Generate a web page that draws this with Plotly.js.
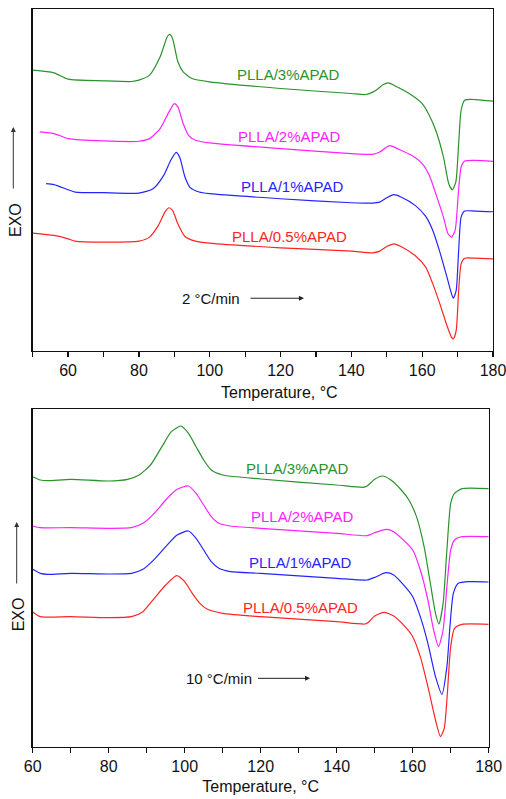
<!DOCTYPE html>
<html>
<head>
<meta charset="utf-8">
<script src="https://cdn.plot.ly/plotly-3.0.1.min.js"></script>
<style>html,body{margin:0;padding:0;background:#fff;}#chart{width:506px;height:799px;}</style>
</head>
<body>
<div id="chart"></div>
<script>
// ---- 2 °C/min panel (temperature °C, heat flow a.u.) ----
const seriesNames = ["PLLA/3%APAD", "PLLA/2%APAD", "PLLA/1%APAD", "PLLA/0.5%APAD"];
const seriesColors = ["#2a922a", "#ff22ff", "#2424ff", "#ff2424"];

const tA_3 = [50,56,60,70,78,80,83,86,88,88.7,89.5,91,92.5,95,100,120,140,144,147,149,150.5,152,156,160,162,164,166,167.5,168.5,169.5,170.3,171,172,175,180];
const hA_3 = [84.0,83.2,81.3,80.8,80.6,81.0,82.5,88.0,94.0,94.7,93.5,86.5,83.5,81.5,80.5,78.5,77.0,76.7,78.0,79.7,80.2,79.5,77.2,74.0,70.5,65.5,58.0,50.0,48.2,50.5,62.0,72.0,75.0,75.2,74.7];

const tA_2 = [52,56,60,70,80,83,86,88.5,90,91,92.5,94,96,100,120,140,146,148,150,151,153,157,160,162,164,166,167.3,168.3,169.3,170.2,171,172,175,180];
const hA_2 = [65.5,65.0,63.5,62.8,62.7,63.5,66.5,71.5,74.0,73.0,68.0,64.5,63.0,62.2,60.5,59.0,58.8,59.5,61.0,61.4,60.5,58.5,56.0,52.5,46.5,40.0,35.0,34.0,36.0,47.0,55.0,56.8,57.0,56.7];

const tA_1 = [53.8,56,60,62,70,80,84,87,89,90.5,91.5,93,94.5,97,100,120,140,146,148,150,152,154,158,161,163,165,167,168.3,168.8,169.6,170.3,171,172,175,180];
const hA_1 = [50.0,49.7,48.2,47.5,47.3,47.2,48.5,52.5,57.0,59.4,58.0,52.0,48.8,47.5,47.0,45.5,44.3,44.2,44.5,45.8,46.7,46.0,43.5,40.2,36.0,29.5,22.0,17.0,15.7,18.0,30.0,40.0,41.8,41.8,41.6];

const tA_05 = [50,56,60,62,70,80,83,85.5,87.5,88.5,89.5,91,93,96,100,120,140,146,148,150,152,154,158,161,163,165,167,168.3,168.8,169.6,170.3,171,172,175,180];
const hA_05 = [35.2,34.5,33.5,32.8,32.5,32.8,34.0,37.5,41.8,42.8,42.0,38.0,34.2,32.8,32.2,30.8,29.8,29.3,29.8,31.2,32.0,31.2,28.5,25.0,20.0,14.0,7.5,4.0,3.5,6.0,18.0,26.0,27.7,27.7,27.5];

// ---- 10 °C/min panel ----
const tB_3 = [60,62,64,70,80,85,88,91,94,96.5,99,101,103,105,107,110,120,140,147,148,150,152,154,157,159,161,163,164.5,166,166.9,168,169,170,171,173,180];
const hB_3 = [81.0,80.0,79.8,80.2,79.7,80.2,81.5,84.5,90.0,94.5,96.2,94.0,90.0,86.0,83.0,81.5,80.3,78.5,77.8,78.2,80.2,81.2,80.2,77.0,74.0,69.0,60.0,50.0,40.0,36.8,43.0,59.0,73.0,76.0,77.4,77.4];

const tB_2 = [60,62,70,80,86,89,92,95,98,101,103,105,107,109,112,120,140,148,150,153,155,158,160,162,164,165.5,166.8,168,169,170,171,173,180];
const hB_2 = [66.2,65.7,65.7,65.5,65.7,67.0,70.0,74.0,77.2,78.2,76.0,72.5,69.0,67.0,66.2,65.5,64.0,63.3,64.2,65.2,64.5,61.5,59.0,53.0,44.0,35.0,30.0,35.0,48.0,59.0,62.0,63.0,63.0];

const tB_1 = [60,62,64,70,80,86,89,92,95,98,101,103,105,107,109,112,120,140,148,150,153,155,158,160,162,164,166,167.7,169,169.8,170.7,172,175,180];
const hB_1 = [53.2,52.0,51.7,52.0,51.8,52.0,53.2,56.2,60.0,63.5,64.7,62.5,59.0,55.5,53.5,52.5,52.0,50.5,50.0,50.8,52.2,51.5,48.0,45.0,39.0,31.0,21.0,15.7,24.0,36.0,46.0,49.0,49.5,49.4];

const tB_05 = [60,62,70,80,86,89,92,95,97.9,100,102,104,106,110,120,140,147.5,148.5,150,152.5,155,158,160,162,164,166,167.3,168.3,169,170,171,173,180];
const hB_05 = [40.4,39.0,39.0,38.7,39.0,40.5,44.5,48.5,51.3,49.5,46.0,43.0,41.2,40.0,39.0,37.5,36.8,37.5,39.2,40.3,39.2,36.0,33.0,27.0,18.0,8.0,3.0,5.5,14.0,30.0,35.5,36.7,36.7];

const xTicksA = [60, 80, 100, 120, 140, 160, 180];
const xTicksB = [60, 80, 100, 120, 140, 160, 180];

const FONT = "Liberation Sans, Arial, sans-serif";

const panelA = [[tA_3,hA_3],[tA_2,hA_2],[tA_1,hA_1],[tA_05,hA_05]];
const panelB = [[tB_3,hB_3],[tB_2,hB_2],[tB_1,hB_1],[tB_05,hB_05]];

const traces = [];
panelA.forEach((s, i) => traces.push({x: s[0], y: s[1], xaxis: 'x', yaxis: 'y', mode: 'lines', name: seriesNames[i],
  line: {color: seriesColors[i], width: 1.2, shape: 'spline', smoothing: 0.6}, hoverinfo: 'skip', showlegend: false}));
panelB.forEach((s, i) => traces.push({x: s[0], y: s[1], xaxis: 'x2', yaxis: 'y2', mode: 'lines', name: seriesNames[i],
  line: {color: seriesColors[i], width: 1.2, shape: 'spline', smoothing: 0.6}, hoverinfo: 'skip', showlegend: false}));

function xax(range, domain, anchor, ticks) {
  return {range: range, domain: domain, anchor: anchor, showline: true, mirror: true, linecolor: '#111', linewidth: 1.5,
    ticks: 'outside', ticklen: 5, tickwidth: 1.2, tickcolor: '#111', tickmode: 'array', tickvals: ticks, showgrid: false, zeroline: false,
    ticklabeloverflow: 'allow',
    minor: {dtick: 10, ticks: 'outside', ticklen: 5, tickwidth: 1.2, tickcolor: '#111', showgrid: false},
    tickfont: {family: FONT, size: 16, color: '#111'}};
}
function yax(range, domain, anchor) {
  return {range: range, domain: domain, anchor: anchor, showline: true, mirror: true, linecolor: '#111', linewidth: 1.5,
    ticks: '', showticklabels: false, showgrid: false, zeroline: false};
}

const layout = {
  width: 506, height: 799, autosize: false,
  margin: {l: 0, r: 0, t: 0, b: 0},
  paper_bgcolor: '#fff', plot_bgcolor: '#fff',
  xaxis: xax([50, 180], [0.0646, 0.9743], 'y', xTicksA),
  yaxis: yax([0, 102.3], [0.5611, 0.9887], 'x'),
  xaxis2: Object.assign(xax([60, 180], [0.0646, 0.9658], 'y2', xTicksB),
    {title: {text: 'Temperature, °C', font: {family: FONT, size: 16, color: '#111'}, standoff: 6}}),
  yaxis2: yax([0, 101.3], [0.0655, 0.4881], 'x2'),
  annotations: [],
  font: {family: FONT}
};

const labA = [[122.1, 82.8], [122.4, 64.0], [123.2, 49.2], [122.4, 34.2]];
const labB = [[129.6, 83.5], [130.9, 69.2], [130.4, 55.2], [130.4, 41.8]];
labA.forEach((p, i) => layout.annotations.push({xref: 'x', yref: 'y', x: p[0], y: p[1], text: seriesNames[i], showarrow: false,
  xanchor: 'center', yanchor: 'middle', font: {family: FONT, size: 15, color: seriesColors[i]}}));
labB.forEach((p, i) => layout.annotations.push({xref: 'x2', yref: 'y2', x: p[0], y: p[1], text: seriesNames[i], showarrow: false,
  xanchor: 'center', yanchor: 'middle', font: {family: FONT, size: 15, color: seriesColors[i]}}));

// heating-rate notes with arrows
layout.annotations.push({xref: 'x', yref: 'y', x: 100.5, y: 15.7, text: '2 °C/min', showarrow: false, xanchor: 'center', yanchor: 'middle',
  font: {family: FONT, size: 15, color: '#111'}});
layout.annotations.push({xref: 'x', yref: 'y', x: 126.6, y: 15.7, ax: 111.1, ay: 15.7, axref: 'x', ayref: 'y', text: '', showarrow: true,
  arrowhead: 2, arrowsize: 1, arrowwidth: 1, arrowcolor: '#222'});
layout.annotations.push({xref: 'x2', yref: 'y2', x: 108.9, y: 20.5, text: '10 °C/min', showarrow: false, xanchor: 'center', yanchor: 'middle',
  font: {family: FONT, size: 15, color: '#111'}});
layout.annotations.push({xref: 'x2', yref: 'y2', x: 133.0, y: 20.5, ax: 118.9, ay: 20.5, axref: 'x2', ayref: 'y2', text: '', showarrow: true,
  arrowhead: 2, arrowsize: 1, arrowwidth: 1, arrowcolor: '#222'});

// top x title
layout.annotations.push({xref: 'paper', yref: 'paper', x: 279.6/506, y: (799-392.7)/799, text: 'Temperature, °C', showarrow: false,
  xanchor: 'center', yanchor: 'middle', font: {family: FONT, size: 16, color: '#111'}});

// EXO labels and up arrows
layout.annotations.push({xref: 'paper', yref: 'paper', x: 15/506, y: (799-220)/799, text: 'EXO', textangle: -90, showarrow: false,
  xanchor: 'center', yanchor: 'middle', font: {family: FONT, size: 16, color: '#111'}});
layout.annotations.push({xref: 'paper', yref: 'paper', x: 13.3/506, y: (799-127)/799, ax: 0, ay: 63, text: '', showarrow: true,
  arrowhead: 2, arrowsize: 1, arrowwidth: 1, arrowcolor: '#333'});
layout.annotations.push({xref: 'paper', yref: 'paper', x: 18.3/506, y: (799-614)/799, text: 'EXO', textangle: -90, showarrow: false,
  xanchor: 'center', yanchor: 'middle', font: {family: FONT, size: 16, color: '#111'}});
layout.annotations.push({xref: 'paper', yref: 'paper', x: 16.7/506, y: (799-522)/799, ax: 0, ay: 63, text: '', showarrow: true,
  arrowhead: 2, arrowsize: 1, arrowwidth: 1, arrowcolor: '#333'});

Plotly.newPlot('chart', traces, layout, {staticPlot: true, displayModeBar: false});
</script>
</body>
</html>
